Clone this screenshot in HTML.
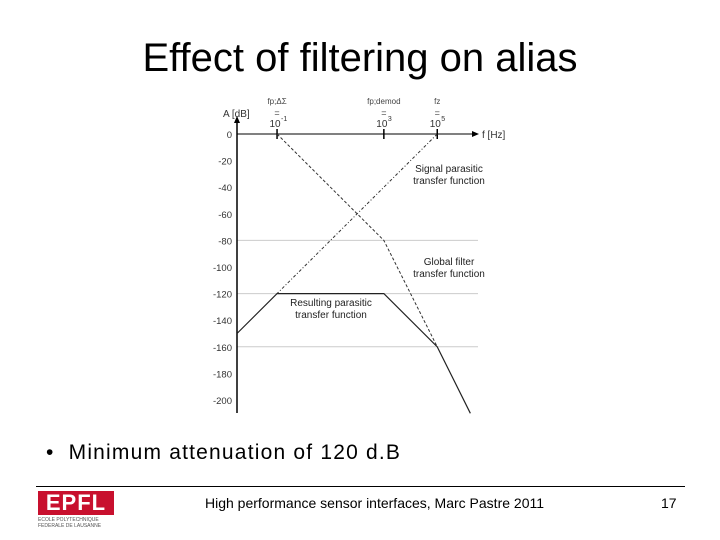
<!DOCTYPE html>
<html><head><meta charset="utf-8"><style>
body{margin:0;width:720px;height:540px;background:#fff;font-family:"Liberation Sans",sans-serif;position:relative;overflow:hidden}
.t{position:absolute;white-space:nowrap}
</style></head><body>
<div class="t" style="left:0;width:720px;text-align:center;top:36px;font-size:40px;color:#000">Effect of filtering on alias</div>
<svg id="chart" width="720" height="540" style="position:absolute;left:0;top:0" font-family="Liberation Sans, sans-serif"></svg>
<div class="t" style="left:46px;top:441px;font-size:21px;letter-spacing:1.2px;color:#000">•&nbsp;&nbsp;Minimum attenuation of 120 d.B</div>
<div style="position:absolute;left:36px;top:486px;width:649px;height:1px;background:#000"></div>
<div style="position:absolute;left:38px;top:491px;width:76px;height:24px;background:#c8102e;color:#fff;font-weight:bold;font-size:22px;line-height:24px;text-align:center;letter-spacing:1px">EPFL</div>
<div class="t" style="left:38px;top:517px;font-size:5px;line-height:6px;color:#555">ECOLE POLYTECHNIQUE<br>FEDERALE DE LAUSANNE</div>
<div class="t" style="left:205px;top:495px;font-size:14px;color:#000">High performance sensor interfaces, Marc Pastre 2011</div>
<div class="t" style="left:661px;top:495px;font-size:14px;color:#000">17</div>
<script>
const yTicks=[0,-20,-40,-60,-80,-100,-120,-140,-160,-180,-200];
const gridDb=[-80,-120,-160];
const xMarks=[-1,3,5];
const xMarkNames=["fp;ΔΣ","fp;demod","fz"];
const xMarkExp=["-1","3","5"];
const globalLogF=[-1,3,5];
const globalDb=[0,-80,-160];
const signalLogF=[5,-1];
const signalDb=[0,-120];
const resultLogF=[-2.5,-1,3,5,6.24];
const resultDb=[-150,-120,-120,-160,-210];
const X=v=>237+(v+2.5)*26.7, Y=d=>134-d*1.33;
const svg=document.getElementById('chart'),NS='http://www.w3.org/2000/svg';
function mk(t,a,txt){const e=document.createElementNS(NS,t);for(const k in a)e.setAttribute(k,a[k]);if(txt!=null)e.textContent=txt;svg.appendChild(e);return e;}
gridDb.forEach(d=>{const e=mk('line',{x1:237,x2:478,y1:Y(d),y2:Y(d),stroke:'#ccc','stroke-width':1});

});
yTicks.forEach(d=>{const e=mk('text',{x:232,y:Y(d)+4,'font-size':9.5,'text-anchor':'end',fill:'#333'},String(d));

});
let e=mk('line',{x1:237,x2:237,y1:413,y2:120,stroke:'#000','stroke-width':1.5});


e=mk('path',{d:'M234,123 L237,116 L240,123Z',fill:'#000'});


e=mk('line',{x1:237,x2:474,y1:134,y2:134,stroke:'#000','stroke-width':1});


e=mk('path',{d:'M472,131 L479,134 L472,137Z',fill:'#000'});


e=mk('text',{x:482,y:138,'font-size':10,fill:'#333'},'f [Hz]');


e=mk('text',{x:223,y:117,'font-size':10,fill:'#333'},'A [dB]');


xMarks.forEach((m,i)=>{const x=X(m);
let t=mk('line',{x1:x,x2:x,y1:129,y2:139,stroke:'#000','stroke-width':1.5});


t=mk('text',{x:x,y:104,'font-size':8,'text-anchor':'middle',fill:'#444'},xMarkNames[i]);


t=mk('text',{x:x,y:116,'font-size':9,'text-anchor':'middle',fill:'#444'},'=');


t=mk('text',{x:x-2,y:127,'font-size':10,'text-anchor':'middle',fill:'#333'},'10');


t=mk('text',{x:x+4,y:121,'font-size':7,fill:'#333'},xMarkExp[i]);

});
const pts=(xs,ys)=>xs.map((v,i)=>X(v)+','+Y(ys[i])).join(' ');
e=mk('polyline',{points:pts(globalLogF,globalDb),fill:'none',stroke:'#333','stroke-width':1,'stroke-dasharray':'3,2'});


e=mk('polyline',{points:pts(signalLogF,signalDb),fill:'none',stroke:'#333','stroke-width':1,'stroke-dasharray':'3,2,1,2'});


e=mk('polyline',{points:pts(resultLogF,resultDb),fill:'none',stroke:'#222','stroke-width':1.2});


[['Signal parasitic',449,172],['transfer function',449,184],['Global filter',449,265],['transfer function',449,277],['Resulting parasitic',331,306],['transfer function',331,318]].forEach(a=>{
const t=mk('text',{x:a[1],y:a[2],'font-size':10,'text-anchor':'middle',fill:'#222'},a[0]);

});
</script>
</body></html>
